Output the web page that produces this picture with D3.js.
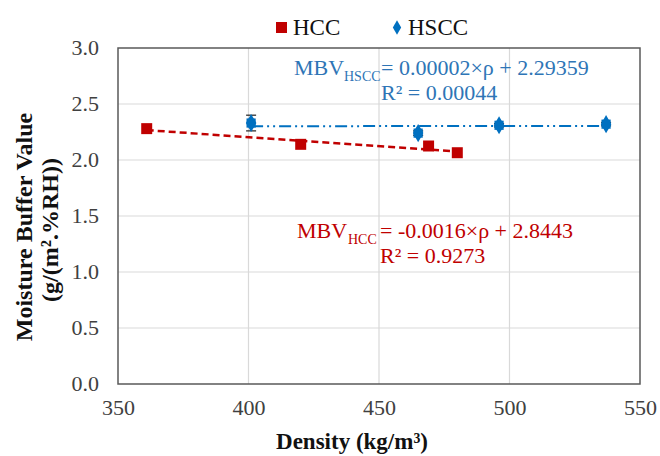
<!DOCTYPE html>
<html><head><meta charset="utf-8">
<script src="https://cdn.jsdelivr.net/npm/d3@7/dist/d3.min.js"></script>
<style>html,body{margin:0;padding:0;background:#fff;}svg{display:block;}</style>
</head><body>
<script>
// ---- data ----
const seriesNames = ["HCC", "HSCC"];
const hccDensity = [361, 420, 469, 480];
const hccMBV = [2.28, 2.14, 2.125, 2.065];
const hsccDensity = [401, 465, 496, 537];
const hsccMBV = [2.33, 2.24, 2.31, 2.32];
const hsccErr = [0.07, 0.02, 0.015, 0.015];
const hccFit = [-0.0016, 2.8443];   // slope, intercept
const hsccFit = [0.00002, 2.29359];
const xTicks = [350, 400, 450, 500, 550];
const yTicks = [0.0, 0.5, 1.0, 1.5, 2.0, 2.5, 3.0];
const xLabel = "Density (kg/m³)";
const yLabel1 = "Moisture Buffer Value";
const yLabel2 = "(g/(m².%RH))";

const W = 660, H = 456;
const m = {left: 118, right: 20, top: 48, bottom: 72};
const RED = "#C00000", BLUE = "#0070C0", BLUETXT = "#2E75B6";
const FONT = "'Liberation Serif','Times New Roman',serif";

const svg = d3.select("body").append("svg").attr("width", W).attr("height", H)
  .style("font-family", FONT);

const x = d3.scaleLinear().domain([350, 550]).range([m.left, W - m.right]);
const y = d3.scaleLinear().domain([0, 3]).range([H - m.bottom, m.top]);

// gridlines
svg.append("g").selectAll("line").data(yTicks.slice(1, -1)).join("line")
  .attr("x1", x(350)).attr("x2", x(550)).attr("y1", d => y(d)).attr("y2", d => y(d))
  .attr("stroke", "#d9d9d9").attr("stroke-width", 1.2);
svg.append("g").selectAll("line").data(xTicks.slice(1, -1)).join("line")
  .attr("y1", y(0)).attr("y2", y(3)).attr("x1", d => x(d)).attr("x2", d => x(d))
  .attr("stroke", "#d9d9d9").attr("stroke-width", 1.2);

// axes (labels only)
const xAxis = svg.append("g").attr("transform", `translate(0,${y(0)})`)
  .call(d3.axisBottom(x).tickValues(xTicks).tickSize(0).tickPadding(0).tickFormat(d3.format("d")));
xAxis.select(".domain").remove();
xAxis.selectAll("text").attr("dy", null).attr("y", 31).attr("font-size", 22)
  .attr("font-family", FONT).attr("fill", "#404040");

const yAxis = svg.append("g").attr("transform", `translate(${x(350)},0)`)
  .call(d3.axisLeft(y).tickValues(yTicks).tickSize(0).tickPadding(19).tickFormat(d3.format(".1f")));
yAxis.select(".domain").remove();
yAxis.selectAll("text").attr("dy", "0.3em").attr("font-size", 22)
  .attr("font-family", FONT).attr("fill", "#404040");

// plot border
svg.append("rect").attr("x", x(350)).attr("y", y(3)).attr("width", x(550) - x(350))
  .attr("height", y(0) - y(3)).attr("fill", "none").attr("stroke", "#595959").attr("stroke-width", 1.5);

// trendlines
const hccExt = d3.extent(hccDensity);
svg.append("line")
  .attr("x1", x(hccExt[0])).attr("y1", y(hccFit[0] * hccExt[0] + hccFit[1]))
  .attr("x2", x(hccExt[1])).attr("y2", y(hccFit[0] * hccExt[1] + hccFit[1]))
  .attr("stroke", RED).attr("stroke-width", 2.5).attr("stroke-dasharray", "7,4");
const hsccExt = d3.extent(hsccDensity);
svg.append("line")
  .attr("x1", x(hsccExt[0])).attr("y1", y(hsccFit[0] * hsccExt[0] + hsccFit[1]))
  .attr("x2", x(hsccExt[1])).attr("y2", y(hsccFit[0] * hsccExt[1] + hsccFit[1]))
  .attr("stroke", BLUE).attr("stroke-width", 2).attr("stroke-dasharray", "12,4,2,4,2,4");

// HCC markers
svg.append("g").selectAll("path").data(hccDensity.map((d, i) => [d, hccMBV[i]])).join("path")
  .attr("d", d3.symbol(d3.symbolSquare, 121))
  .attr("transform", d => `translate(${x(d[0])},${y(d[1])})`)
  .attr("fill", RED);

// HSCC error bars
const hs = hsccDensity.map((d, i) => ({x: d, y: hsccMBV[i], e: hsccErr[i]}));
const eb = svg.append("g").attr("stroke", "#303030").attr("stroke-width", 1.3);
hs.forEach(p => {
  eb.append("line").attr("x1", x(p.x)).attr("x2", x(p.x)).attr("y1", y(p.y - p.e)).attr("y2", y(p.y + p.e));
  [p.y - p.e, p.y + p.e].forEach(v => eb.append("line")
    .attr("x1", x(p.x) - 5).attr("x2", x(p.x) + 5).attr("y1", y(v)).attr("y2", y(v)));
});
// HSCC markers (diamond + square gives starburst look)
const hg = svg.append("g").attr("fill", BLUE);
hg.selectAll(".dia").data(hs).join("path").attr("class", "dia")
  .attr("d", d3.symbol(d3.symbolDiamond, 95))
  .attr("transform", d => `translate(${x(d.x)},${y(d.y)})`);
hg.selectAll(".sq").data(hs).join("path").attr("class", "sq")
  .attr("d", d3.symbol(d3.symbolSquare, 85))
  .attr("transform", d => `translate(${x(d.x)},${y(d.y)})`);

// equations
function eq(sx, sy, color, sub, subX, restX, rest, r2) {
  const g = svg.append("g").attr("fill", color).attr("font-size", 22);
  g.append("text").attr("x", sx).attr("y", sy).text("MBV");
  g.append("text").attr("x", subX).attr("y", sy + 6).attr("font-size", 14).text(sub);
  g.append("text").attr("x", restX).attr("y", sy).text(rest);
  g.append("text").attr("x", restX).attr("y", sy + 25).text(r2);
}
eq(294, 75, BLUETXT, "HSCC", 344, 381, "= 0.00002×ρ + 2.29359", "R² = 0.00044");
eq(297, 238, RED, "HCC", 348, 380, "= -0.0016×ρ + 2.8443", "R² = 0.9273");

// legend
const lg = svg.append("g").attr("font-size", 23).attr("fill", "#111");
lg.append("path").attr("d", d3.symbol(d3.symbolSquare, 121)).attr("transform", "translate(281.5,27.5)").attr("fill", RED);
lg.append("text").attr("x", 293).attr("y", 35).text(seriesNames[0]);
lg.append("path").attr("d", d3.symbol(d3.symbolDiamond, 60)).attr("transform", "translate(397,27.5)").attr("fill", BLUE);
lg.append("text").attr("x", 408).attr("y", 35).text(seriesNames[1]);

// axis titles
svg.append("text").attr("x", 352).attr("y", 449).attr("text-anchor", "middle")
  .attr("font-size", 23).attr("font-weight", "bold").attr("fill", "#111").text(xLabel);
const yl = svg.append("g").attr("font-size", 24).attr("font-weight", "bold").attr("fill", "#111")
  .attr("text-anchor", "middle");
yl.append("text").attr("transform", "translate(32,227) rotate(-90)").text(yLabel1);
yl.append("text").attr("transform", "translate(58,230) rotate(-90)").text(yLabel2);
</script>
</body></html>
